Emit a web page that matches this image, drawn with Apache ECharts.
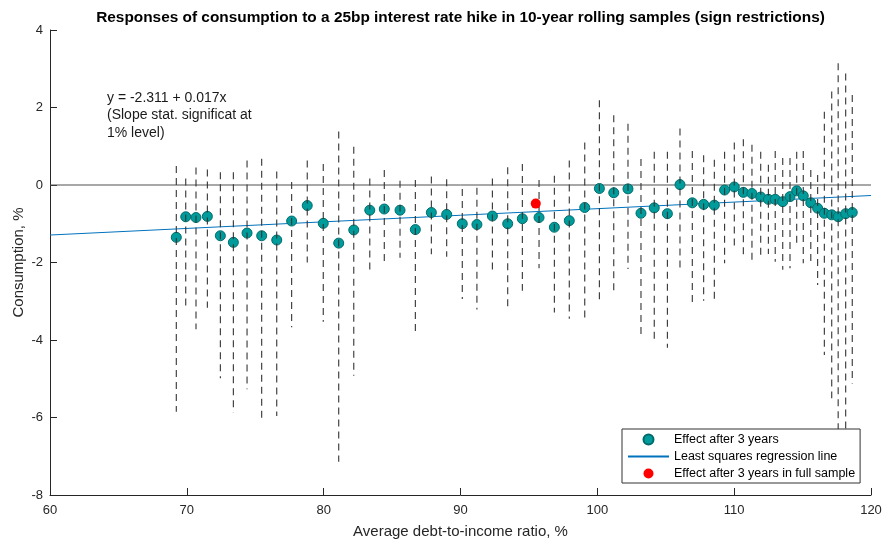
<!DOCTYPE html>
<html>
<head>
<meta charset="utf-8">
<title>Consumption responses</title>
<script src="https://cdn.jsdelivr.net/npm/echarts@6/dist/echarts.min.js"></script>
<style>
  html, body { margin: 0; padding: 0; background: #fff; }
  #chart { width: 882px; height: 540px; }
</style>
</head>
<body>
<div id="chart"></div>
<script>
// average debt-to-income ratio of each rolling sample
var debtRatio = [69.23, 69.92, 70.67, 71.50, 72.45, 73.40, 74.40, 75.47, 76.57, 77.66,
                 78.80, 79.97, 81.10, 82.20, 83.37, 84.43, 85.58, 86.70, 87.87, 88.99,
                 90.13, 91.20, 92.33, 93.45, 94.52, 95.74, 96.86, 97.95, 99.08, 100.15,
                 101.20, 102.24, 103.19, 104.16, 105.12, 106.04, 106.94, 107.77, 108.55, 109.30,
                 110.01, 110.67, 111.30, 111.94, 112.50, 113.00, 113.55, 114.08, 114.57, 115.05,
                 115.60, 116.10, 116.59, 117.13, 117.60, 118.15, 118.63];
// effect after 3 years
var effect = [-1.35, -0.82, -0.84, -0.81, -1.31, -1.48, -1.24, -1.31, -1.42, -0.93,
              -0.53, -0.99, -1.50, -1.16, -0.65, -0.62, -0.65, -1.15, -0.71, -0.76,
              -1.00, -1.02, -0.80, -1.00, -0.87, -0.84, -1.09, -0.92, -0.58, -0.09,
              -0.20, -0.10, -0.73, -0.59, -0.74, 0.01, -0.46, -0.50, -0.52, -0.13,
              -0.05, -0.19, -0.22, -0.31, -0.37, -0.37, -0.43, -0.30, -0.15, -0.28,
              -0.46, -0.60, -0.73, -0.77, -0.82, -0.74, -0.71];
// lower / upper band (dashed bars)
var bandLow = [-5.85, -3.12, -3.72, -3.17, -4.99, -5.87, -5.27, -6.05, -5.96, -3.67,
               -2.00, -3.53, -7.14, -4.92, -2.26, -2.02, -1.88, -3.89, -1.79, -1.85,
               -2.94, -3.21, -2.28, -3.17, -2.73, -2.15, -3.29, -3.45, -3.50, -3.07,
               -2.80, -2.17, -3.91, -4.04, -4.20, -2.15, -3.05, -2.99, -2.94, -2.02,
               -1.63, -1.88, -2.05, -1.91, -1.78, -1.98, -2.19, -2.15, -1.55, -2.02,
               -2.02, -2.58, -4.39, -5.50, -6.60, -6.60, -5.12];
var bandHigh = [0.49, 0.17, 0.45, 0.40, 0.33, 0.33, 0.63, 0.68, 0.35, 0.08,
                0.63, 0.54, 1.38, 0.99, 0.17, 0.39, 0.11, 0.13, 0.22, 0.15,
                -0.10, -0.07, 0.17, 0.46, 0.54, 0.13, 0.24, 0.63, 1.10, 2.19,
                1.80, 1.58, 0.67, 0.86, 0.86, 1.46, 0.88, 0.77, 0.65, 0.86,
                1.10, 1.18, 1.04, 0.86, 0.52, 0.88, 0.70, 0.70, 0.86, 0.88,
                0.39, 0.26, 1.89, 2.41, 3.14, 2.88, 2.32];
// full sample estimate
var fullX = [95.5];
var fullY = [-0.48];
// regression line end points (y = -2.311 + 0.017x)
var regX = [60, 120];
var regY = [-1.291, -0.271];
// zero reference line
var zeroX = [60, 120];
var zeroY = [0, 0];

var xTicks = [60, 120, 10];
var yTicks = [-8, 4, 2];

var txt = '#262626';
var font = 'Liberation Sans, Arial, sans-serif';

function pairs(xs, ys) {
    var out = [];
    for (var i = 0; i < xs.length; i++) out.push([xs[i], ys[i]]);
    return out;
}

var bars = [];
for (var i = 0; i < debtRatio.length; i++) {
    bars.push([debtRatio[i], bandLow[i], bandHigh[i]]);
}

var chart = echarts.init(document.getElementById('chart'));

var option = {
    animation: false,
    textStyle: { fontFamily: font },
    title: {
        text: 'Responses of consumption to a 25bp interest rate hike in 10-year rolling samples (sign restrictions)',
        left: 460.5,
        top: 10,
        padding: 0,
        textAlign: 'center',
        textStyle: { fontSize: 15.4, fontWeight: 'bold', color: '#000', fontFamily: font }
    },
    // fixed plot box, labels are allowed to sit outside it
    grid: { left: 50, right: 11, top: 30, bottom: 45, outerBoundsMode: 'none' },
    legend: {
        orient: 'vertical',
        left: 622,
        top: 429,
        z: 20,
        padding: [3, 5, 2, 5],
        itemGap: 2,
        itemWidth: 41,
        itemHeight: 10,
        backgroundColor: '#fff',
        borderColor: '#333',
        borderWidth: 1,
        borderRadius: 0,
        textStyle: { fontSize: 12.5, lineHeight: 15, color: '#000', fontFamily: font },
        data: [
            'Effect after 3 years',
            // line only, hide the dot that echarts puts on line icons
            { name: 'Least squares regression line', itemStyle: { opacity: 0 } },
            'Effect after 3 years in full sample'
        ]
    },
    xAxis: {
        type: 'value',
        min: xTicks[0],
        max: xTicks[1],
        interval: xTicks[2],
        name: 'Average debt-to-income ratio, %',
        nameLocation: 'middle',
        nameGap: 29,
        nameMoveOverlap: false,
        nameTextStyle: { fontSize: 15, color: txt },
        axisLine: { onZero: false, lineStyle: { color: txt, width: 1 } },
        axisTick: { inside: true, length: 7, lineStyle: { color: txt } },
        axisLabel: { fontSize: 13, color: txt, margin: 9 },
        splitLine: { show: false }
    },
    yAxis: {
        type: 'value',
        min: yTicks[0],
        max: yTicks[1],
        interval: yTicks[2],
        name: 'Consumption, %',
        nameLocation: 'middle',
        nameGap: 24,
        nameMoveOverlap: false,
        nameTextStyle: { fontSize: 15, color: txt },
        axisLine: { show: true, onZero: false, lineStyle: { color: txt, width: 1 } },
        axisTick: { show: true, inside: true, length: 7, lineStyle: { color: txt } },
        axisLabel: { fontSize: 13, color: txt, margin: 7 },
        splitLine: { show: false }
    },
    graphic: [{
        type: 'text',
        left: 107,
        top: 89,
        z: 10,
        style: {
            text: 'y = -2.311 + 0.017x\n(Slope stat. significat at\n1% level)',
            font: '14px ' + font,
            lineHeight: 17.5,
            fill: '#1a1a1a'
        }
    }],
    series: [
        {
            // horizontal line at zero
            name: 'zero',
            type: 'line',
            data: pairs(zeroX, zeroY),
            symbol: 'none',
            silent: true,
            z: 1,
            lineStyle: { color: '#505050', width: 1 }
        },
        {
            name: 'Least squares regression line',
            type: 'line',
            data: pairs(regX, regY),
            symbol: 'none',
            z: 2,
            lineStyle: { color: '#0072BD', width: 1 },
            itemStyle: { color: '#0072BD' }
        },
        {
            name: 'Effect after 3 years',
            type: 'scatter',
            data: pairs(debtRatio, effect),
            symbol: 'circle',
            symbolSize: 10,
            z: 3,
            itemStyle: { color: '#009c9c', borderColor: '#006a6a', borderWidth: 1, opacity: 1 }
        },
        {
            // dashed bands drawn on top of markers
            name: 'band',
            type: 'custom',
            data: bars,
            z: 4,
            silent: true,
            renderItem: function (params, api) {
                var p1 = api.coord([api.value(0), api.value(2)]);
                var p2 = api.coord([api.value(0), api.value(1)]);
                return {
                    type: 'line',
                    shape: { x1: p1[0], y1: p1[1], x2: p2[0], y2: p2[1] },
                    style: { stroke: '#333', lineWidth: 1.1, lineDash: [7, 5] }
                };
            }
        },
        {
            name: 'Effect after 3 years in full sample',
            type: 'scatter',
            data: pairs(fullX, fullY),
            symbol: 'circle',
            symbolSize: 10,
            z: 5,
            itemStyle: { color: '#ff0000', opacity: 1 }
        }
    ]
};

chart.setOption(option);
</script>
</body>
</html>
